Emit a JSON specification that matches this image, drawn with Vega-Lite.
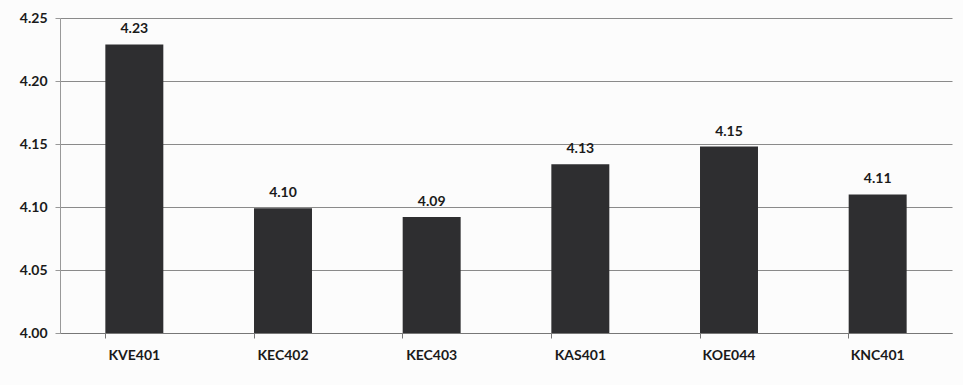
{
  "$schema": "https://vega.github.io/schema/vega-lite/v6.json",
  "autosize": {"type": "none"},
  "width": 892,
  "height": 315,
  "padding": {"left": 60, "top": 18, "right": 11, "bottom": 52},
  "background": "#fcfcfc",
  "config": {
    "view": {"stroke": null},
    "font": "Lato",
    "axis": {"labelFont": "Lato", "labelFontWeight": "bold", "labelFontSize": 14, "labelColor": "#1a1a1a"}
  },
  "data": {"values": [
    {"code": "KVE401", "score": 4.229},
    {"code": "KEC402", "score": 4.099},
    {"code": "KEC403", "score": 4.092},
    {"code": "KAS401", "score": 4.134},
    {"code": "KOE044", "score": 4.148},
    {"code": "KNC401", "score": 4.11}
  ]},
  "encoding": {
    "x": {"field": "code", "type": "nominal", "sort": null,
      "scale": {"paddingInner": 0.61, "paddingOuter": 0.305},
      "axis": {"title": null, "labelAngle": 0, "domainColor": "#777", "tickColor": "#777", "ticks": true, "tickSize": 5, "bandPosition": 0, "labelPadding": 10, "grid": false}},
    "y": {"field": "score", "type": "quantitative",
      "scale": {"domain": [4.0, 4.25], "zero": false, "nice": false},
      "axis": {"title": null, "values": [4.0, 4.05, 4.1, 4.15, 4.2, 4.25], "format": ".2f", "gridColor": "#8a8a8a", "gridWidth": 1, "domainColor": "#999", "tickColor": "#999", "tickSize": 5, "labelPadding": 8}}
  },
  "layer": [
    {"mark": {"type": "bar", "color": "#2e2e30"},
      "encoding": {"y2": {"datum": 4.0}}},
    {"mark": {"type": "text", "dy": -8, "baseline": "bottom", "fontWeight": "bold", "fontSize": 14, "color": "#1a1a1a"},
      "encoding": {"text": {"field": "score", "type": "quantitative", "format": ".2f"}}}
  ]
}
